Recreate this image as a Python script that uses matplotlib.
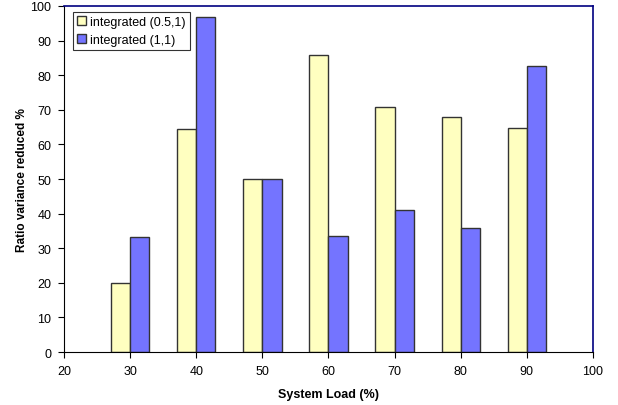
import matplotlib.pyplot as plt

plt.rcParams['font.family'] = ['Liberation Sans', 'DejaVu Sans']

loads = [30, 40, 50, 60, 70, 80, 90]
half_one = [20, 64.4, 50, 85.9, 70.9, 67.9, 64.6]
one_one = [33.2, 96.7, 50, 33.4, 41, 35.8, 82.6]
labels = ['integrated (0.5,1)', 'integrated (1,1)']

w = 2.9

fig = plt.figure(figsize=(6.18, 4.06), dpi=100)
ax = fig.add_axes([0.1036, 0.1305, 0.8559, 0.8523])

ax.bar([x - w / 2 for x in loads], half_one, width=w, color='#ffffc0',
       edgecolor='#333333', linewidth=1, label=labels[0])
ax.bar([x + w / 2 for x in loads], one_one, width=w, color='#7474ff',
       edgecolor='#333333', linewidth=1, label=labels[1])

ax.set_xlim(20, 100)
ax.set_ylim(0, 100)
ax.set_xticks(range(20, 101, 10))
ax.set_yticks(range(0, 101, 10))
ax.tick_params(labelsize=9, length=4, width=0.8, direction='out', pad=5)

for s in ['top', 'right']:
    ax.spines[s].set_color('#000080')
    ax.spines[s].set_linewidth(1.2)
for s in ['left', 'bottom']:
    ax.spines[s].set_color('black')
    ax.spines[s].set_linewidth(0.8)

ax.set_xlabel('System Load (%)', fontsize=9, fontweight='bold', labelpad=8)
ax.set_ylabel('Ratio variance reduced %', fontsize=8.5, fontweight='bold', labelpad=2)

leg = ax.legend(loc='upper left', bbox_to_anchor=(0.017, 0.983), fontsize=9,
                frameon=True, fancybox=False, edgecolor='black',
                handlelength=0.7, handleheight=0.7, handletextpad=0.3,
                borderpad=0.35, labelspacing=0.45, borderaxespad=0)
leg.get_frame().set_linewidth(0.8)

fig.savefig('out.png', dpi=100)
